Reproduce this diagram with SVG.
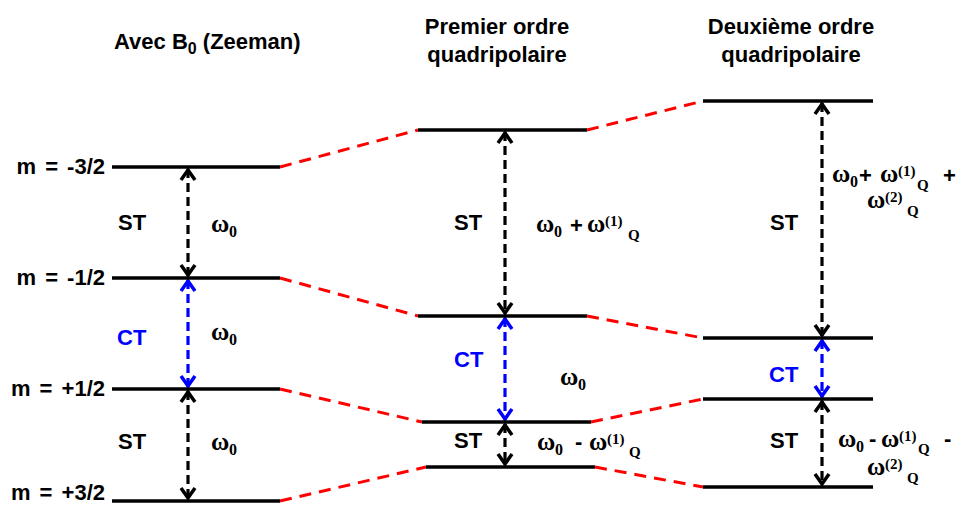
<svg xmlns="http://www.w3.org/2000/svg" width="959" height="506" viewBox="0 0 959 506">
<style>
.t{font-family:"Liberation Sans",Arial,sans-serif;font-weight:bold;font-size:22px;fill:#000}
.b{fill:#0000ff}
.w{font-family:"Liberation Serif","Times New Roman",serif;font-weight:bold;font-size:25px;fill:#000}
.s{font-size:16px}
.sp{font-size:15px}
.lvl{stroke:#000;stroke-width:3.5;fill:none}
.red{stroke:#ff0000;stroke-width:3;stroke-dasharray:12 8;fill:none}
.ak{stroke:#000;stroke-width:3.2;stroke-dasharray:9 5;fill:none;marker-start:url(#hk);marker-end:url(#hk)}
.ab{stroke:#0000ff;stroke-width:3.2;stroke-dasharray:9 5;fill:none;marker-start:url(#hb);marker-end:url(#hb)}
</style>
<defs>
<marker id="hk" markerUnits="userSpaceOnUse" markerWidth="20" markerHeight="20" refX="14" refY="9" orient="auto-start-reverse">
<path d="M3,2 L13,9 L3,16" fill="none" stroke="#000" stroke-width="3.5"/>
</marker>
<marker id="hb" markerUnits="userSpaceOnUse" markerWidth="20" markerHeight="20" refX="14" refY="9" orient="auto-start-reverse">
<path d="M3,2 L13,9 L3,16" fill="none" stroke="#0000ff" stroke-width="3.5"/>
</marker>
</defs>
<rect width="959" height="506" fill="#fff"/>

<g id="titles">
<text class="t" x="114" y="49">Avec B<tspan class="s" dy="5">0</tspan><tspan dy="-5"> (Zeeman)</tspan></text>
<text class="t" x="497" y="34" text-anchor="middle">Premier ordre</text>
<text class="t" x="497" y="62" text-anchor="middle">quadripolaire</text>
<text class="t" x="791" y="34" text-anchor="middle">Deuxième ordre</text>
<text class="t" x="791" y="62" text-anchor="middle">quadripolaire</text>
</g>

<g id="connectors">
<line class="red" x1="280" y1="167" x2="418" y2="130"/>
<line class="red" x1="280" y1="278" x2="418" y2="316"/>
<line class="red" x1="280" y1="389" x2="422" y2="422"/>
<line class="red" x1="280" y1="501" x2="426" y2="467"/>
<line class="red" x1="587" y1="130" x2="703" y2="101"/>
<line class="red" x1="587" y1="316" x2="703" y2="338"/>
<line class="red" x1="591" y1="422" x2="703" y2="399"/>
<line class="red" x1="595" y1="467" x2="703" y2="487"/>
<line class="ak" x1="188" y1="169" x2="188" y2="276"/>
<line class="ab" x1="188" y1="280" x2="188" y2="387"/>
<line class="ak" x1="188" y1="391" x2="188" y2="499"/>
<line class="ak" x1="505" y1="132" x2="505" y2="314"/>
<line class="ab" x1="505" y1="318" x2="505" y2="420"/>
<line class="ak" x1="505" y1="424" x2="505" y2="465"/>
<line class="ak" x1="822" y1="103" x2="822" y2="336"/>
<line class="ab" x1="822" y1="340" x2="822" y2="397"/>
<line class="ak" x1="822" y1="401" x2="822" y2="485"/>
</g>

<g id="zeeman">
<line class="lvl" x1="112" y1="167" x2="280" y2="167"/>
<line class="lvl" x1="112" y1="278" x2="280" y2="278"/>
<line class="lvl" x1="112" y1="389" x2="280" y2="389"/>
<line class="lvl" x1="112" y1="501" x2="280" y2="501"/>
<text class="t" x="105" y="174" text-anchor="end" word-spacing="3">m = -3/2</text>
<text class="t" x="105" y="285" text-anchor="end" word-spacing="3">m = -1/2</text>
<text class="t" x="105" y="396" text-anchor="end" word-spacing="3">m = +1/2</text>
<text class="t" x="105" y="500" text-anchor="end" word-spacing="3">m = +3/2</text>
<text class="t" x="118" y="230">ST</text>
<text class="t b" x="117" y="345">CT</text>
<text class="t" x="118" y="449">ST</text>
<text class="w" x="211" y="232">ω<tspan class="s" x="229" y="237">0</tspan></text>
<text class="w" x="211" y="340">ω<tspan class="s" x="229" y="345">0</tspan></text>
<text class="w" x="211" y="450">ω<tspan class="s" x="229" y="455">0</tspan></text>
</g>

<g id="premier">
<line class="lvl" x1="418" y1="130" x2="587" y2="130"/>
<line class="lvl" x1="418" y1="316" x2="587" y2="316"/>
<line class="lvl" x1="422" y1="422" x2="591" y2="422"/>
<line class="lvl" x1="426" y1="467" x2="595" y2="467"/>
<text class="t" x="454" y="230">ST</text>
<text class="t b" x="454" y="367">CT</text>
<text class="t" x="454" y="448">ST</text>
<text class="w" x="536" y="232">ω<tspan class="s" x="554" y="237">0</tspan><tspan class="t" x="570" y="233">+</tspan><tspan x="587" y="232">ω</tspan><tspan class="sp" x="605" y="226">(1)</tspan><tspan class="sp" x="628" y="240">Q</tspan></text>
<text class="w" x="560" y="385">ω<tspan class="s" x="578" y="390">0</tspan></text>
<text class="w" x="537" y="450">ω<tspan class="s" x="555" y="455">0</tspan><tspan class="t" x="575" y="449">-</tspan><tspan x="589" y="450">ω</tspan><tspan class="sp" x="607" y="444">(1)</tspan><tspan class="sp" x="629" y="457">Q</tspan></text>
</g>

<g id="deuxieme">
<line class="lvl" x1="703" y1="101" x2="873" y2="101"/>
<line class="lvl" x1="703" y1="338" x2="873" y2="338"/>
<line class="lvl" x1="703" y1="399" x2="873" y2="399"/>
<line class="lvl" x1="703" y1="487" x2="873" y2="487"/>
<text class="t" x="770" y="230">ST</text>
<text class="t b" x="769" y="382">CT</text>
<text class="t" x="770" y="448">ST</text>
<text class="w" x="832" y="182">ω<tspan class="s" x="850" y="187">0</tspan><tspan class="t" x="859" y="183">+</tspan><tspan x="880" y="182">ω</tspan><tspan class="sp" x="898" y="176">(1)</tspan><tspan class="sp" x="917" y="190">Q</tspan><tspan class="t" x="943" y="183">+</tspan></text>
<text class="w" x="867" y="208">ω<tspan class="sp" x="885" y="202">(2)</tspan><tspan class="sp" x="907" y="216">Q</tspan></text>
<text class="w" x="838" y="447">ω<tspan class="s" x="856" y="452">0</tspan><tspan class="t" x="869" y="446">-</tspan><tspan x="881" y="447">ω</tspan><tspan class="sp" x="899" y="441">(1)</tspan><tspan class="sp" x="918" y="454">Q</tspan><tspan class="t" x="944" y="446">-</tspan></text>
<text class="w" x="867" y="475">ω<tspan class="sp" x="885" y="469">(2)</tspan><tspan class="sp" x="907" y="483">Q</tspan></text>
</g>
</svg>
